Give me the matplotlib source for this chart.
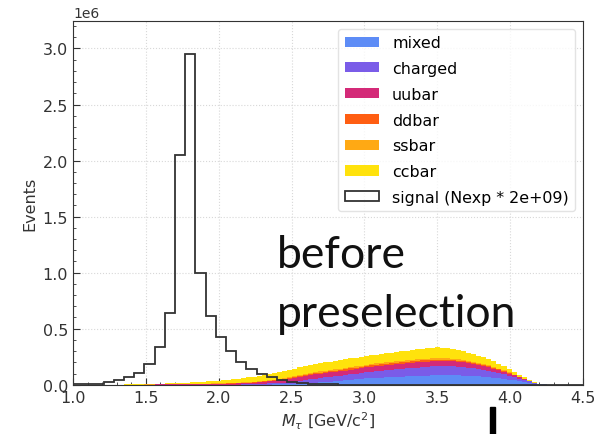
import matplotlib.pyplot as plt
import numpy as np
from matplotlib.ticker import AutoMinorLocator
from matplotlib.patches import Rectangle

# 背景: 100 个 bin (1.0 - 4.5 GeV), 单位 1e3 events
bkg_edges = np.linspace(1.0, 4.5, 101)
mixed = [0, 0, 0, 0, 0, 0, 0, 0, 0, 0,
         0, 0, 0, 0, 0, 0, 0, 0, 0, 0,
         0, 0, 0, 0, 0, 0, 0, 0, 0, 0,
         0, 0, 0, 0, 0, 0, 0, 1, 1, 2,
         2, 3, 4, 5, 7, 10, 13, 16, 20, 24,
         27, 31, 35, 39, 43, 47, 52, 56, 59, 62,
         64, 66, 68, 70, 72, 74, 76, 78, 80, 82,
         84, 85, 86, 86, 85, 84, 82, 80, 78, 75,
         71, 67, 62, 57, 51, 45, 38, 31, 24, 17,
         10, 4, 2, 1, 0, 0, 0, 0, 0, 0]
charged = [0, 0, 0, 0, 0, 0, 0, 0, 0, 0,
           0, 0, 0, 0, 0, 0, 0, 0, 0, 0,
           0, 0, 0, 0, 0, 0, 0, 0, 0, 0,
           0, 0, 1, 2, 3, 4, 6, 8, 10, 12,
           14, 16, 20, 23, 27, 31, 34, 37, 39, 41,
           43, 45, 46, 48, 50, 52, 54, 56, 58, 60,
           62, 64, 66, 68, 70, 72, 74, 75, 77, 78,
           79, 80, 80, 80, 79, 77, 75, 72, 69, 66,
           62, 58, 53, 48, 42, 36, 30, 24, 18, 12,
           7, 3, 1, 0, 0, 0, 0, 0, 0, 0]
uubar = [0, 0, 0, 0, 0, 0, 0, 0, 0, 0,
         0, 1, 1, 1, 1, 1, 2, 2, 2, 2,
         3, 3, 4, 4, 5, 5, 6, 7, 7, 8,
         9, 10, 11, 12, 13, 15, 16, 18, 19, 21,
         23, 25, 28, 31, 34, 36, 38, 39, 39, 39,
         39, 39, 39, 39, 40, 40, 41, 42, 42, 43,
         43, 44, 44, 45, 45, 46, 46, 47, 47, 47,
         47, 47, 46, 45, 44, 43, 42, 40, 38, 36,
         34, 32, 29, 26, 23, 19, 15, 11, 8, 5,
         2, 0, 0, 0, 0, 0, 0, 0, 0, 0]
ddbar = [0, 0, 0, 0, 0, 0, 0, 0, 0, 0,
         0, 0, 0, 0, 0, 0, 1, 1, 1, 1,
         1, 1, 1, 1, 1, 1, 1, 2, 2, 2,
         2, 2, 3, 3, 3, 4, 4, 4, 5, 5,
         6, 6, 7, 7, 8, 8, 9, 9, 10, 10,
         10, 11, 11, 11, 12, 12, 12, 13, 13, 13,
         13, 13, 13, 13, 13, 13, 13, 13, 13, 13,
         13, 12, 12, 12, 11, 11, 10, 10, 9, 9,
         8, 8, 7, 6, 6, 5, 4, 3, 2, 1,
         0, 0, 0, 0, 0, 0, 0, 0, 0, 0]
ssbar = [0, 0, 0, 0, 0, 0, 0, 0, 0, 0,
         0, 0, 0, 0, 1, 1, 1, 1, 1, 1,
         1, 1, 1, 1, 1, 2, 2, 2, 2, 2,
         3, 3, 3, 3, 4, 4, 4, 5, 5, 6,
         6, 7, 7, 8, 8, 9, 9, 9, 10, 10,
         10, 11, 11, 11, 12, 12, 12, 13, 13, 13,
         13, 13, 13, 13, 13, 13, 13, 13, 13, 13,
         13, 12, 12, 12, 11, 11, 10, 10, 9, 9,
         8, 8, 7, 6, 6, 5, 4, 3, 2, 1,
         0, 0, 0, 0, 0, 0, 0, 0, 0, 0]
ccbar = [0, 0, 0, 0, 0, 0, 0, 0, 0, 0,
         2, 2, 3, 4, 4, 5, 5, 6, 7, 8,
         9, 11, 12, 14, 16, 18, 20, 22, 26, 28,
         30, 33, 35, 39, 42, 45, 49, 50, 54, 56,
         60, 64, 66, 69, 71, 72, 73, 75, 75, 76,
         78, 77, 79, 80, 78, 79, 78, 76, 77, 77,
         79, 80, 82, 83, 85, 86, 88, 90, 92, 94,
         95, 97, 95, 91, 88, 82, 78, 73, 69, 63,
         60, 54, 50, 45, 38, 32, 26, 19, 12, 7,
         3, 1, 0, 0, 0, 0, 0, 0, 0, 0]

# 信号: 50 个 bin, 单位 1e3 events
sig_edges = np.linspace(1.0, 4.5, 51)
signal = [2, 4, 10, 24, 38, 68, 106, 188, 335, 640,
          2050, 2950, 1000, 610, 430, 298, 200, 140, 100, 68,
          42, 24, 12, 6, 3, 2, 1, 0, 0, 0,
          0, 0, 0, 0, 0, 0, 0, 0, 0, 0,
          0, 0, 0, 0, 0, 0, 0, 0, 0, 0]

names = ['mixed', 'charged', 'uubar', 'ddbar', 'ssbar', 'ccbar']
colors = ['#5d8cf6', '#7a5ce8', '#d42a78', '#ff5e12', '#ffa914', '#ffe20c']
bkg = [mixed, charged, uubar, ddbar, ssbar, ccbar]
sig_label = 'signal (Nexp * 2e+09)'

fig = plt.figure(figsize=(6.0, 4.35), dpi=100)
ax = fig.add_axes([0.1217, 0.1133, 0.85, 0.8361])

bkg_centers = 0.5 * (bkg_edges[:-1] + bkg_edges[1:])
ax.hist([bkg_centers] * len(bkg), bins=bkg_edges,
        weights=[np.array(b) * 1e3 for b in bkg],
        stacked=True, histtype='stepfilled', color=colors, label=names)

sig_centers = 0.5 * (sig_edges[:-1] + sig_edges[1:])
ax.hist(sig_centers, bins=sig_edges, weights=np.array(signal) * 1e3,
        histtype='step', color='#333333', linewidth=1.3, label=sig_label)

ax.set_xlim(1.0, 4.5)
ax.set_ylim(0, 1.1 * max(signal) * 1e3)
ax.set_xticks(np.arange(1.0, 4.51, 0.5))
ax.xaxis.set_minor_locator(AutoMinorLocator(5))
ax.yaxis.set_minor_locator(AutoMinorLocator(5))
ax.tick_params(which='both', direction='in', colors='#333333', labelsize=11.5)
ax.tick_params(which='major', length=5)
ax.tick_params(which='minor', length=2.5)
ax.grid(True, which='major', color='#d8d8d8', linestyle=':', linewidth=0.8)
ax.set_axisbelow(True)
for sp in ax.spines.values():
    sp.set_color('#333333')
ax.yaxis.get_offset_text().set_fontsize(10)

ax.set_xlabel(r'$M_{\tau}$ [GeV/c$^2$]', fontsize=11.5, color='#333333')
ax.set_ylabel('Events', fontsize=11.5, color='#333333')

# 图例按 mixed -> ccbar -> signal 的顺序
handles, labels = ax.get_legend_handles_labels()
order = [labels.index(n) for n in names + [sig_label]]
ax.legend([handles[i] for i in order], [labels[i] for i in order],
          loc='upper right', fontsize=11.4, handlelength=2.2, handleheight=0.6,
          handletextpad=0.8, labelspacing=0.68, framealpha=0.8,
          edgecolor='#dddddd')

ax.text(0.4, 0.3236, 'before', transform=ax.transAxes, fontsize=32,
        family='Lato', va='baseline', color='#111111')
ax.text(0.4, 0.162, 'preselection', transform=ax.transAxes, fontsize=32,
        family='Lato', va='baseline', color='#111111')

# 光标竖线
fig.add_artist(Rectangle((490 / 600, 0), 5 / 600, 27 / 435,
                         transform=fig.transFigure, color='black'))

fig.savefig('out.png', dpi=100)
